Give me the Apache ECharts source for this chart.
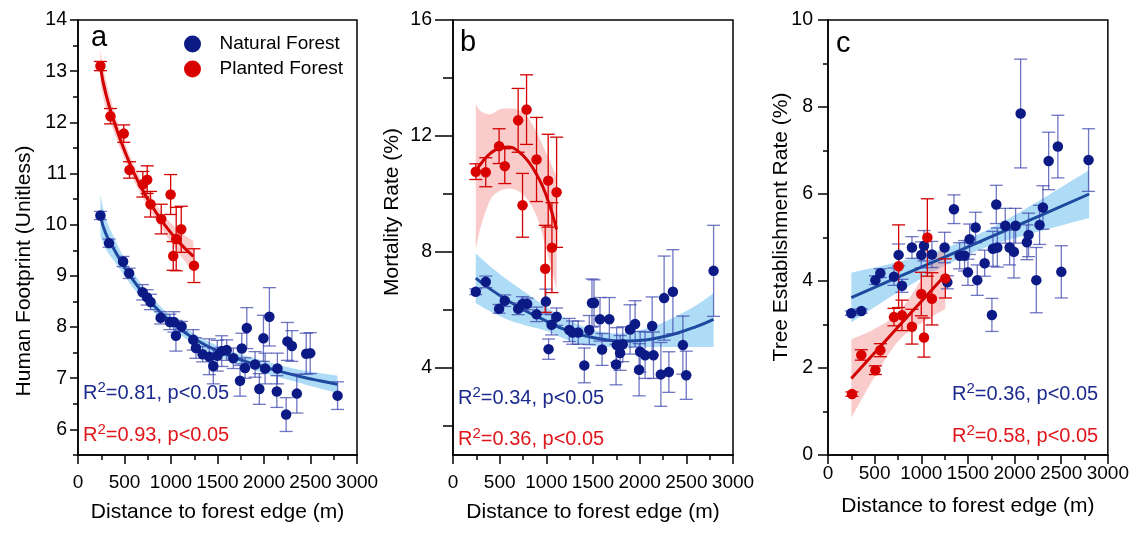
<!DOCTYPE html>
<html><head><meta charset="utf-8">
<script src="https://cdn.jsdelivr.net/npm/echarts@6/dist/echarts.min.js"></script>
<style>html,body{margin:0;padding:0;background:#fff}#chart{width:1132px;height:535px}</style>
</head><body><div id="chart"></div><script>
// ---------------- DATA ----------------
// Panel a: Human Footprint
const aNatX = [241,334,485,550,694,744,780,888,988,1031,1053,1114,1239,1268,1340,1412,1455,1498,1545,1599,1670,1742,1761,1796,1815,1904,1950,1994,2012,2058,2138,2144,2238,2252,2300,2353,2454,2497,2791];
const aNatY = [10.18,9.64,9.28,9.05,8.68,8.58,8.49,8.18,8.10,8.10,7.83,8.01,7.75,7.59,7.47,7.42,7.24,7.44,7.53,7.55,7.39,6.95,7.58,7.20,7.98,7.27,6.79,7.78,7.19,8.20,6.74,7.19,6.29,7.72,7.63,6.70,7.48,7.49,6.66];
const aNatE = [0.08,0.08,0.1,0.1,0.15,0.15,0.15,0.12,0.15,0.2,0.3,0.1,0.2,0.2,0.15,0.35,0.35,0.3,0.3,0.2,0.2,0.3,0.3,0.2,0.4,0.25,0.3,0.45,0.3,0.57,0.31,0.3,0.33,0.37,0.3,0.38,0.4,0.4,0.27];
const aPlaX = [241,349,492,554,697,744,780,895,996,1024,1056,1110,1247];
const aPlaY = [13.10,12.12,11.78,11.07,10.79,10.88,10.40,10.11,10.59,9.39,9.72,9.91,9.20];
const aPlaE = [0.09,0.15,0.17,0.16,0.25,0.27,0.25,0.29,0.39,0.28,0.62,0.45,0.33];
const aNatFitX = [241,300,400,500,600,700,800,1000,1200,1400,1600,1800,2000,2200,2400,2600,2790];
const aNatFitY = [10.18,9.82,9.48,9.17,8.90,8.66,8.45,8.10,7.83,7.62,7.46,7.33,7.22,7.12,7.03,6.95,6.88];
const aNatUp   = [10.58,10.12,9.70,9.34,9.05,8.79,8.57,8.21,7.93,7.72,7.56,7.44,7.34,7.24,7.16,7.10,7.05];
const aNatLo   = [9.78,9.52,9.26,9.00,8.75,8.53,8.33,7.99,7.73,7.52,7.36,7.22,7.10,7.00,6.90,6.80,6.71];
const aPlaFitX = [241,300,400,500,600,700,800,900,1000,1100,1240];
const aPlaFitY = [13.08,12.55,11.95,11.45,11.02,10.66,10.35,10.08,9.84,9.63,9.38];
const aPlaUp   = [13.41,12.82,12.15,11.61,11.17,10.81,10.50,10.24,10.03,9.86,9.68];
const aPlaLo   = [12.75,12.28,11.75,11.29,10.87,10.51,10.20,9.92,9.65,9.40,9.08];

// Panel b: Mortality Rate
const bNatX = [244,351,494,555,698,745,795,895,995,1024,1056,1110,1246,1282,1342,1407,1460,1489,1511,1575,1597,1675,1747,1754,1790,1819,1897,1951,1994,2005,2058,2134,2148,2227,2262,2313,2356,2463,2499,2792];
const bNatY = [6.63,6.97,6.04,6.32,6.04,6.21,6.21,5.85,6.29,4.65,5.49,5.77,5.31,5.22,5.22,4.09,5.31,6.24,6.24,5.68,4.64,5.68,4.12,4.79,4.52,4.82,5.33,5.52,3.94,4.56,4.44,5.45,4.44,3.78,6.41,3.86,6.63,4.79,3.75,7.35];
const bNatE = [0.1,0.2,0.15,0.2,0.2,0.25,0.2,0.25,0.43,0.35,0.35,0.3,0.4,0.4,0.4,0.6,0.5,0.83,0.8,0.75,0.55,0.75,0.7,0.6,0.6,0.6,0.85,0.8,0.9,0.7,0.8,1.0,0.8,1.1,1.45,0.7,1.45,1.0,0.83,1.57];
const bPlaX = [244,351,494,555,698,745,788,895,988,1020,1060,1110];
const bPlaY = [10.77,10.75,11.65,10.96,12.54,9.61,12.91,11.19,7.42,10.46,8.15,10.06];
const bPlaE = [0.27,0.5,0.6,0.6,1.1,1.1,1.2,1.45,1.5,1.6,1.55,1.9];
const bNatFitX = [244,400,600,800,1000,1200,1400,1600,1800,2000,2200,2400,2600,2792];
const bNatFitY = [7.10,6.72,6.30,5.93,5.62,5.32,5.12,4.99,4.93,4.95,5.04,5.20,5.42,5.68];
const bNatUp   = [7.95,7.50,7.00,6.55,6.10,5.72,5.42,5.24,5.20,5.30,5.50,5.80,6.15,6.58];
const bNatLo   = [6.24,5.95,5.65,5.45,5.28,5.00,4.80,4.73,4.72,4.72,4.72,4.72,4.72,4.72];
const bPlaFitX = [244,300,400,500,600,700,800,900,1000,1110];
const bPlaFitY = [10.78,11.05,11.40,11.58,11.62,11.47,11.15,10.65,9.95,8.78];
const bPlaUp   = [13.10,12.85,12.75,12.92,12.95,12.90,12.65,12.10,11.40,10.60];
const bPlaLo   = [8.10,8.90,9.80,10.10,10.18,10.10,9.80,9.20,8.10,6.70];

// Panel c: Tree Establishment Rate
const cNatX = [250,357,508,561,707,757,793,900,1000,1029,1114,1250,1279,1350,1411,1464,1500,1518,1582,1600,1679,1757,1768,1804,1815,1900,1947,1993,2011,2065,2132,2150,2233,2268,2304,2365,2464,2501,2793];
const cNatY = [3.26,3.31,4.02,4.18,4.10,4.60,3.89,4.77,4.60,4.81,4.61,4.77,3.97,5.65,4.58,4.58,4.20,4.96,5.23,4.02,4.41,3.22,4.74,5.76,4.77,5.27,4.77,4.67,5.27,7.85,4.89,5.06,4.02,5.29,5.69,6.76,7.09,4.21,6.78];
const cNatE = [0.05,0.05,0.1,0.1,0.2,0.25,0.15,0.25,0.3,0.35,0.3,0.35,0.15,0.33,0.3,0.35,0.3,0.35,0.35,0.35,0.3,0.38,0.4,0.44,0.45,0.4,0.4,0.6,0.4,1.25,0.4,0.5,0.75,0.45,0.5,0.66,0.72,0.6,0.72];
const cPlaX = [257,357,508,561,707,757,793,900,1000,1029,1065,1114,1258];
const cPlaY = [1.40,2.30,1.95,2.41,3.17,4.34,3.21,2.95,3.70,2.70,5.00,3.59,4.06];
const cPlaE = [0.05,0.12,0.1,0.15,0.2,0.95,0.35,0.4,0.5,0.45,0.89,0.6,0.45];
const cNatFitX = [250,750,1250,1750,2250,2800];
const cNatFitY = [3.62,4.09,4.55,5.02,5.48,6.00];
const cNatUp   = [4.19,4.44,4.75,5.22,5.83,6.55];
const cNatLo   = [3.05,3.74,4.35,4.82,5.13,5.45];
const cPlaFitX = [250,500,750,1000,1258];
const cPlaFitY = [1.76,2.35,2.94,3.53,4.14];
const cPlaUp   = [2.66,2.90,3.27,4.03,4.92];
const cPlaLo   = [0.86,1.80,2.61,3.03,3.36];

// Tick / label values
const aYMajor = [6,7,8,9,10,11,12,13,14];
const bYMajor = [4,8,12,16];
const bYMinor = [2,6,10,14];

// Texts
const panelLetters = ['a','b','c'];
const yTitles = ['Human Footprint (Unitless)','Mortality Rate (%)','Tree Establishment Rate (%)'];
const xTitle = 'Distance to forest edge (m)';
const statsNat = ['0.81','0.34','0.36'];
const statsPla = ['0.93','0.36','0.58'];
const legendNames = ['Natural Forest','Planted Forest'];

// ---------------- STYLE ----------------
const FONT = 'Liberation Sans, Arial, Helvetica, sans-serif';
const NAVY = '#0c1a85';
const RED = '#d90000';
const NAVY_ERR = 'rgba(55,65,170,0.72)';
const RED_ERR = '#d40000';
const NAVY_FIT = '#1b4a9e';
const RED_FIT = '#d20000';
const NAVY_BAND = 'rgba(120,195,240,0.6)';
const RED_BAND = 'rgba(245,140,140,0.45)';
const TXT_NAVY = '#1b2a8c';
const TXT_RED = '#e0161b';
const AX = {color:'#000', width:1.5};

const grids = [
  {left:78, top:20, width:279, height:435},
  {left:453, top:20, width:280, height:435},
  {left:828, top:20, width:280, height:435}
].map(g => Object.assign(g, {show:true, borderColor:'#000', borderWidth:1.5, backgroundColor:'transparent', containLabel:false}));

function xAxis(gi, margin, gap) {
  return {gridIndex:gi, type:'value', min:0, max:3000, interval:500,
    axisLine:{show:true, onZero:false, lineStyle:AX},
    axisTick:{show:true, length:9, lineStyle:AX},
    minorTick:{show:true, splitNumber:2, length:5, lineStyle:AX},
    axisLabel:{fontSize:19, color:'#000', margin:margin, fontFamily:FONT, showMaxLabel:true, showMinLabel:true,
      hideOverlap:false, formatter: v => String(v)},
    splitLine:{show:false},
    name:xTitle, nameLocation:'middle', nameGap:gap,
    nameTextStyle:{fontSize:21, color:'#000', fontFamily:FONT}};
}

const yAxes = [
  {gridIndex:0, type:'value', position:'left', min:5.5, max:14, interval:0.5,
   axisLine:{show:true, onZero:false, lineStyle:AX},
   axisTick:{show:true, length:5, lineStyle:AX},
   axisLabel:{fontSize:19.5, color:'#000', margin:11, fontFamily:FONT,
     formatter: v => (aYMajor.indexOf(v) >= 0 ? String(v) : '')},
   splitLine:{show:false}},
  {gridIndex:0, type:'value', position:'left', offset:0, min:5.5, max:14,
   axisLine:{show:false}, axisLabel:{show:false}, splitLine:{show:false},
   axisTick:{show:true, length:8, lineStyle:AX, customValues:aYMajor}},
  {gridIndex:1, type:'value', position:'left', min:1, max:16,
   axisLine:{show:true, onZero:false, lineStyle:AX},
   axisTick:{show:true, length:18, lineStyle:AX, customValues:bYMajor},
   axisLabel:{fontSize:19.5, color:'#000', margin:21, fontFamily:FONT, customValues:bYMajor},
   splitLine:{show:false}},
  {gridIndex:1, type:'value', position:'left', offset:0, min:1, max:16,
   axisLine:{show:false}, axisLabel:{show:false}, splitLine:{show:false},
   axisTick:{show:true, length:10, lineStyle:AX, customValues:bYMinor}},
  {gridIndex:2, type:'value', position:'left', min:0, max:10, interval:2,
   axisLine:{show:true, onZero:false, lineStyle:AX},
   axisTick:{show:true, length:10, lineStyle:AX},
   minorTick:{show:true, splitNumber:2, length:5, lineStyle:AX},
   axisLabel:{fontSize:19.5, color:'#000', margin:15, fontFamily:FONT},
   splitLine:{show:false}}
];

function zip(xs, ys) { return xs.map((x, i) => [x, ys[i]]); }
function zip3(xs, ys, es) { return xs.map((x, i) => [x, ys[i], es[i]]); }

// smooth the drawn outline in pixel space (Catmull-Rom), rendering only
function spline(pts, n) {
  const out = [];
  for (let i = 0; i < pts.length - 1; i++) {
    const p0 = pts[Math.max(0, i - 1)], p1 = pts[i], p2 = pts[i + 1], p3 = pts[Math.min(pts.length - 1, i + 2)];
    for (let k = 0; k < n; k++) {
      const t = k / n, t2 = t * t, t3 = t2 * t;
      const f = (a, b, c, d) => 0.5 * ((2 * b) + (-a + c) * t + (2 * a - 5 * b + 4 * c - d) * t2 + (-a + 3 * b - 3 * c + d) * t3);
      out.push([f(p0[0], p1[0], p2[0], p3[0]), f(p0[1], p1[1], p2[1], p3[1])]);
    }
  }
  out.push(pts[pts.length - 1]);
  return out;
}

function band(id, xi, yi, xs, lo, up, color) {
  return {type:'custom', name:id, xAxisIndex:xi, yAxisIndex:yi, silent:true, z:1,
    data: xs.map((x, i) => [x, lo[i], up[i]]), encode:{x:0, y:[1, 2]},
    renderItem: function (params, api) {
      if (params.dataIndex !== 0) return null;
      const upPx = xs.map((x, i) => api.coord([x, up[i]]));
      const loPx = xs.map((x, i) => api.coord([x, lo[i]]));
      const poly = spline(upPx, 10).concat(spline(loPx, 10).reverse());
      return {type:'polygon', shape:{points:poly}, style:{fill:color, stroke:null}};
    }};
}
function fit(id, xi, yi, xs, ys, color) {
  return {type:'line', name:id, xAxisIndex:xi, yAxisIndex:yi, data:zip(xs, ys), symbol:'none', smooth:true,
    lineStyle:{color:color, width:3}, silent:true, z:2};
}
function errBars(id, xi, yi, xs, ys, es, color) {
  return {type:'custom', name:id, xAxisIndex:xi, yAxisIndex:yi, data:zip3(xs, ys, es), silent:true, z:3,
    encode:{x:0, y:1},
    renderItem: function (params, api) {
      const x = api.value(0), y = api.value(1), e = api.value(2);
      const hi = api.coord([x, y + e]), lo = api.coord([x, y - e]);
      const w = 6.5;
      const st = {stroke:color, lineWidth:1.3, fill:null};
      return {type:'group', children:[
        {type:'line', shape:{x1:hi[0], y1:hi[1], x2:lo[0], y2:lo[1]}, style:st},
        {type:'line', shape:{x1:hi[0]-w, y1:hi[1], x2:hi[0]+w, y2:hi[1]}, style:st},
        {type:'line', shape:{x1:lo[0]-w, y1:lo[1], x2:lo[0]+w, y2:lo[1]}, style:st}
      ]};
    }};
}
function points(name, xi, yi, xs, ys, color) {
  return {type:'scatter', name:name, xAxisIndex:xi, yAxisIndex:yi, data:zip(xs, ys), symbol:'circle', symbolSize:10.5,
    itemStyle:{color:color, opacity:1}, z:4, silent:true};
}

const series = [
  band('aNatBand', 0, 0, aNatFitX, aNatLo, aNatUp, NAVY_BAND),
  band('aPlaBand', 0, 0, aPlaFitX, aPlaLo, aPlaUp, RED_BAND),
  fit('aNatFit', 0, 0, aNatFitX, aNatFitY, NAVY_FIT), fit('aPlaFit', 0, 0, aPlaFitX, aPlaFitY, RED_FIT),
  errBars('aNatErr', 0, 0, aNatX, aNatY, aNatE, NAVY_ERR), errBars('aPlaErr', 0, 0, aPlaX, aPlaY, aPlaE, RED_ERR),
  points(legendNames[0], 0, 0, aNatX, aNatY, NAVY), points(legendNames[1], 0, 0, aPlaX, aPlaY, RED),

  band('bNatBand', 1, 2, bNatFitX, bNatLo, bNatUp, NAVY_BAND),
  band('bPlaBand', 1, 2, bPlaFitX, bPlaLo, bPlaUp, RED_BAND),
  fit('bNatFit', 1, 2, bNatFitX, bNatFitY, NAVY_FIT), fit('bPlaFit', 1, 2, bPlaFitX, bPlaFitY, RED_FIT),
  errBars('bNatErr', 1, 2, bNatX, bNatY, bNatE, NAVY_ERR), errBars('bPlaErr', 1, 2, bPlaX, bPlaY, bPlaE, RED_ERR),
  points(legendNames[0], 1, 2, bNatX, bNatY, NAVY), points(legendNames[1], 1, 2, bPlaX, bPlaY, RED),

  band('cNatBand', 2, 4, cNatFitX, cNatLo, cNatUp, NAVY_BAND),
  band('cPlaBand', 2, 4, cPlaFitX, cPlaLo, cPlaUp, RED_BAND),
  fit('cNatFit', 2, 4, cNatFitX, cNatFitY, NAVY_FIT), fit('cPlaFit', 2, 4, cPlaFitX, cPlaFitY, RED_FIT),
  errBars('cNatErr', 2, 4, cNatX, cNatY, cNatE, NAVY_ERR), errBars('cPlaErr', 2, 4, cPlaX, cPlaY, cPlaE, RED_ERR),
  points(legendNames[0], 2, 4, cNatX, cNatY, NAVY), points(legendNames[1], 2, 4, cPlaX, cPlaY, RED)
];

function statText(x, y, val, color) {
  return {type:'text', x:x, y:y, silent:true, z:10, style:{
    text:'{r|R}{s|2}{r|=' + val + ', p<0.05}',
    align:'left', verticalAlign:'middle', textAlign:'left', textVerticalAlign:'middle',
    fill:color, fontFamily:FONT, fontSize:20,
    rich:{r:{fontSize:20, fill:color, fontFamily:FONT, lineHeight:26},
          s:{fontSize:15, fill:color, fontFamily:FONT, verticalAlign:'top', lineHeight:15}}}};
}
function letter(x, y, t) {
  return {type:'text', x:x, y:y, silent:true, z:10, style:{text:t, fill:'#000', fontFamily:FONT, fontSize:29,
    align:'left', verticalAlign:'middle', textAlign:'left', textVerticalAlign:'middle'}};
}
function yTitle(x, y, t) {
  return {type:'text', x:x, y:y, rotation:Math.PI/2, silent:true, z:10, style:{text:t, fill:'#000', fontFamily:FONT, fontSize:21,
    align:'center', verticalAlign:'middle', textAlign:'center', textVerticalAlign:'middle'}};
}

const option = {
  animation:false,
  backgroundColor:'#fff',
  textStyle:{fontFamily:FONT},
  grid:grids,
  xAxis:[xAxis(0, 18.5, 47), xAxis(1, 18.5, 47), xAxis(2, 9, 41)],
  yAxis:yAxes,
  legend:{orient:'vertical', left:179, top:29.5, itemWidth:44, itemHeight:17, itemGap:6, selectedMode:false,
    textStyle:{fontSize:19, color:'#000', fontFamily:FONT},
    data:[{name:legendNames[0], icon:'circle'}, {name:legendNames[1], icon:'circle'}]},
  series:series,
  graphic:[
    letter(91, 37.5, panelLetters[0]), letter(460, 42.5, panelLetters[1]), letter(836, 44, panelLetters[2]),
    yTitle(24, 271, yTitles[0]), yTitle(392, 212, yTitles[1]), yTitle(781, 227, yTitles[2]),
    statText(83, 393, statsNat[0], TXT_NAVY), statText(83, 435, statsPla[0], TXT_RED),
    statText(458, 398, statsNat[1], TXT_NAVY), statText(458, 439, statsPla[1], TXT_RED),
    statText(952, 394.5, statsNat[2], TXT_NAVY), statText(952, 436, statsPla[2], TXT_RED)
  ]
};
const chart = echarts.init(document.getElementById('chart'), null, {renderer:'canvas'});
chart.setOption(option);
</script></body></html>
